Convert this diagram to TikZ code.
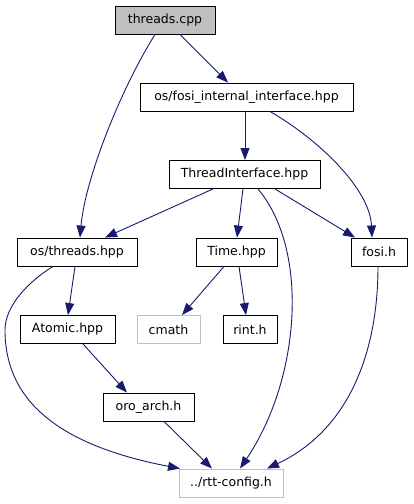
\documentclass[tikz,border=0pt]{standalone}
\usepackage{fontspec}
\setmainfont{DejaVu Sans}
\usetikzlibrary{arrows.meta}
\definecolor{edgec}{HTML}{191970}
\definecolor{grayfill}{HTML}{BFBFBF}
\definecolor{grayline}{HTML}{BFBFBF}
\tikzset{
  box/.style={draw=black, line width=0.9pt, fill=white, minimum height=28pt, inner sep=0pt, font=\fontsize{12.5}{15}\selectfont},
  extbox/.style={box, draw=grayline},
  rootbox/.style={box, fill=grayfill},
  dep/.style={draw=edgec, line width=0.9pt, -{Triangle[length=12pt,width=9pt]}, fill=none},
}
\begin{document}
\begin{tikzpicture}[x=1pt,y=-1pt]
\useasboundingbox (0,0) rectangle (413,504);
\node[rootbox, minimum width=100pt] (tc) at (165,20) {threads.cpp};
\node[box, minimum width=213pt] (fii) at (246.5,97) {os/fosi\_internal\_interface.hpp};
\node[box, minimum width=151pt] (ti) at (244.5,174.5) {ThreadInterface.hpp};
\node[box, minimum width=120pt] (ost) at (77,252) {os/threads.hpp};
\node[box, minimum width=81pt] (time) at (236.5,252) {Time.hpp};
\node[box, minimum width=56pt] (fosi) at (379,252) {fosi.h};
\node[box, minimum width=95pt] (atomic) at (67.5,329.5) {Atomic.hpp};
\node[extbox, minimum width=63pt] (cmath) at (168.5,329.5) {cmath};
\node[box, minimum width=54pt] (rint) at (250,329.5) {rint.h};
\node[box, minimum width=91pt] (oro) at (148.5,407) {oro\_arch.h};
\node[extbox, minimum width=104pt] (rtt) at (231,483) {../rtt-config.h};
\coordinate (bend) at (5,330);

\draw[dep] ([xshift=15pt]tc.south) -- ([xshift=-18.5pt]fii.north);
\draw[dep] ([xshift=-10pt]tc.south) .. controls +(-35,56) and +(5,-58) .. ([xshift=3pt]ost.north);
\draw[dep] ([xshift=-1.5pt]fii.south) -- ([xshift=0.5pt]ti.north);
\draw[dep] ([xshift=23.5pt]fii.south) .. controls +(50,29) and +(-2,-48) .. ([xshift=-7pt]fosi.north);
\draw[dep] ([xshift=-31.5pt]ti.south) -- ([xshift=28pt]ost.north);
\draw[dep] ([xshift=-1.5pt]ti.south) -- ([xshift=0.5pt]time.north);
\draw[dep] ([xshift=30.5pt]ti.south) -- ([xshift=-24pt]fosi.north);
\draw[dep] ([xshift=13.5pt]ti.south) .. controls +(52,62) and +(60,-89) .. ([xshift=9pt]rtt.north);
\draw[dep] ([xshift=-1pt]fosi.south) .. controls +(0,84) and +(83,-39) .. ([xshift=36pt]rtt.north);
\draw[dep] ([xshift=-2pt]ost.south) -- ([xshift=0.5pt]atomic.north);
\draw[dep] ([xshift=-24pt]ost.south) .. controls +(-23,14) and +(0,-25) .. (bend) .. controls +(0,65) and +(-130,-25) .. ([xshift=-51pt]rtt.north);
\draw[dep] ([xshift=15.5pt]atomic.south) -- ([xshift=-21.5pt]oro.north);
\draw[dep] ([xshift=15.5pt]oro.south) -- ([xshift=-19pt]rtt.north);
\draw[dep] ([xshift=-12.5pt]time.south) -- ([xshift=13.5pt]cmath.north);
\draw[dep] ([xshift=2.5pt]time.south) -- ([xshift=-4pt]rint.north);
\end{tikzpicture}
\end{document}
